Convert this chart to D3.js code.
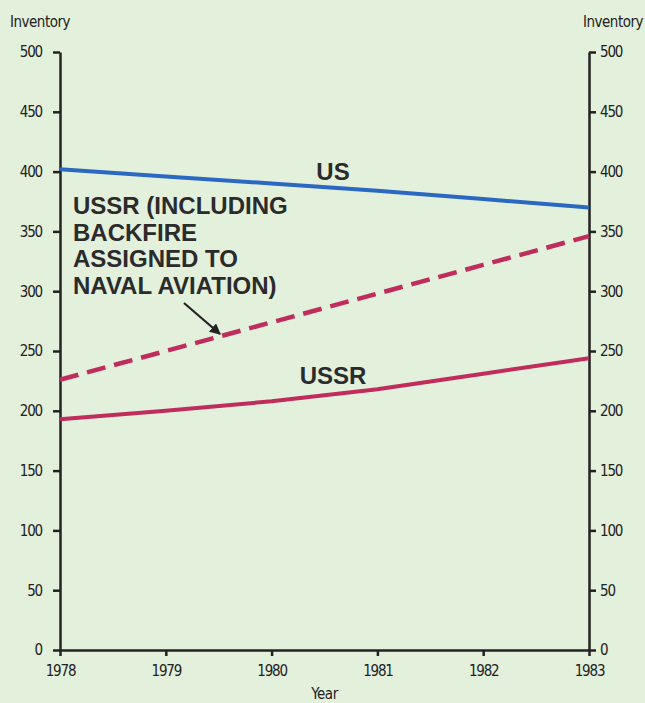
<!DOCTYPE html>
<html lang="en">
<head>
<meta charset="utf-8">
<script src="https://d3js.org/d3.v7.min.js"></script>
<style type="text/css">
body {
	margin: 0;
	background-color: #e3f0dc;
}
.axis text {
	font-family: "Liberation Sans Narrow", "DejaVu Sans Condensed", sans-serif;
	font-size: 15px;
	letter-spacing: -1.2px;
	fill: #222;
}
.axis line, .axis path {
	fill: none;
	stroke: #222;
	stroke-width: 2.5;
}
.label {
	font-family: "Liberation Sans", Arial, sans-serif;
	font-weight: bold;
	font-size: 24px;
	fill: #2b2b2b;
}
.title {
	font-family: "Liberation Sans Narrow", "DejaVu Sans Condensed", sans-serif;
	font-size: 15px;
	letter-spacing: -0.5px;
	fill: #222;
}
</style>
</head>
<body>
<script type="text/javascript">

// chart data
var years = [1978, 1979, 1980, 1981, 1982, 1983];
var usValues = [402, 396, 390, 384, 377, 370];
var ussrValues = [193, 200, 208, 218, 231, 244];
var ussrBackfireValues = [226, 250, 274, 298, 322, 346];
var yTicks = [0, 50, 100, 150, 200, 250, 300, 350, 400, 450, 500];

var width = 645, height = 703;
var margin = {left: 60, right: 56, top: 52, bottom: 53};

var svg = d3.select("body").append("svg")
  .attr("width", width)
  .attr("height", height);

svg.append("rect")
  .attr("width", width)
  .attr("height", height)
  .attr("fill", "#e3f0dc");

var x = d3.scaleLinear()
  .domain([1978, 1983])
  .range([margin.left, width - margin.right]);

var y = d3.scaleLinear()
  .domain([0, 500])
  .range([height - margin.bottom, margin.top]);

// axes
svg.append("g")
  .attr("class", "axis")
  .attr("transform", "translate(" + margin.left + ",0)")
  .call(d3.axisLeft(y).tickValues(yTicks).tickSizeInner(7).tickSizeOuter(0).tickPadding(11).tickFormat(d3.format("d")));

svg.append("g")
  .attr("class", "axis")
  .attr("transform", "translate(" + (width - margin.right) + ",0)")
  .call(d3.axisRight(y).tickValues(yTicks).tickSizeInner(7).tickSizeOuter(0).tickPadding(4).tickFormat(d3.format("d")));

svg.append("g")
  .attr("class", "axis")
  .attr("transform", "translate(0," + (height - margin.bottom) + ")")
  .call(d3.axisBottom(x).tickValues(years).tickSizeInner(6).tickSizeOuter(0).tickPadding(9).tickFormat(d3.format("d")));

// axis titles
svg.append("text").attr("class", "title")
  .attr("x", 10).attr("y", 27).text("Inventory");
svg.append("text").attr("class", "title")
  .attr("x", 643).attr("y", 27).attr("text-anchor", "end").text("Inventory");
svg.append("text").attr("class", "title")
  .attr("x", (x(1980) + x(1981)) / 2).attr("y", 699).attr("text-anchor", "middle").text("Year");

var line = d3.line()
  .x(function(d, i) { return x(years[i]); })
  .y(function(d) { return y(d); });

svg.append("path")
  .datum(usValues)
  .attr("d", line)
  .attr("fill", "none")
  .attr("stroke", "#2a68c2")
  .attr("stroke-width", 4);

svg.append("path")
  .datum(ussrBackfireValues)
  .attr("d", line)
  .attr("fill", "none")
  .attr("stroke", "#c02c5c")
  .attr("stroke-width", 4.5)
  .attr("stroke-dasharray", "19,9");

svg.append("path")
  .datum(ussrValues)
  .attr("d", line)
  .attr("fill", "none")
  .attr("stroke", "#c02c5c")
  .attr("stroke-width", 4);

// labels
svg.append("text").attr("class", "label")
  .attr("x", 333).attr("y", 180).attr("text-anchor", "middle").text("US");
svg.append("text").attr("class", "label")
  .attr("x", 333).attr("y", 384).attr("text-anchor", "middle").text("USSR");

var noteLines = ["USSR (INCLUDING", "BACKFIRE", "ASSIGNED TO", "NAVAL AVIATION)"];
svg.append("text").attr("class", "label")
  .selectAll("tspan")
  .data(noteLines)
  .enter().append("tspan")
  .attr("x", 73)
  .attr("y", function(d, i) { return 214 + i * 26.5; })
  .text(function(d) { return d; });

// arrow
svg.append("defs").append("marker")
  .attr("id", "arrow")
  .attr("viewBox", "0 0 10 10")
  .attr("refX", 9).attr("refY", 5)
  .attr("markerWidth", 5).attr("markerHeight", 5)
  .attr("orient", "auto")
  .append("path")
  .attr("d", "M0,0 L10,5 L0,10 z")
  .attr("fill", "#222");

svg.append("line")
  .attr("x1", 184).attr("y1", 303)
  .attr("x2", 220).attr("y2", 334)
  .attr("stroke", "#222")
  .attr("stroke-width", 2.2)
  .attr("marker-end", "url(#arrow)");

</script>
</body>
</html>
